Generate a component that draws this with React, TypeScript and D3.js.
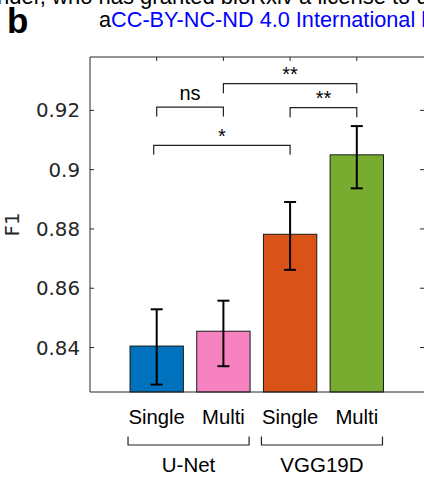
import React from "react";
import * as d3 from "d3";

const categories = ["Single", "Multi", "Single", "Multi"];
const groups = ["U-Net", "VGG19D"];
const groupMembers = [[0, 1], [2, 3]];
const means = [0.8405, 0.8455, 0.8782, 0.905];
const errLow = [0.8275, 0.8337, 0.8662, 0.8937];
const errHigh = [0.8529, 0.8558, 0.8891, 0.9147];
const barColors = ["#0072BD", "#F782C2", "#D95319", "#77AC30"];
const yTicks = [0.84, 0.86, 0.88, 0.9, 0.92];
const yDomain = [0.825, 0.938];
const compFrom = [0, 0, 1, 2];
const compTo = [1, 2, 3, 3];
const compLevel = [0.9211, 0.9082, 0.929, 0.9209];
const compLabel = ["ns", "*", "**", "**"];

const W = 424;
const H = 477;
const left = 90;
const right = 423.5;
const top = 57;
const bottom = 392;

export default function App() {
  const x = d3.scaleLinear().domain([0, 5]).range([left, right]);
  const y = d3.scaleLinear().domain(yDomain).range([bottom, top]);
  const step = x(1) - x(0);
  const bw = step * 0.8;
  const axisColor = "#262626";
  const sans = "Liberation Sans, Arial, Helvetica, sans-serif";
  const dv = "DejaVu Sans, sans-serif";
  const leg = 9.5;

  return (
    <svg
      width={W}
      height={H}
      style={{ position: "absolute", left: 0, top: 0, background: "#fff" }}
    >
      <rect x={0} y={0} width={W} height={H} fill="#fff" />
      {/* header fragments */}
      <text x={-3} y={4} fontFamily={sans} fontSize={22} fill="#000">
        nder, who has granted bioRxiv a license to display
      </text>
      <text x={99} y={27} fontFamily={sans} fontSize={21.7} fill="#000">
        a<tspan fill="#0000FF">CC-BY-NC-ND 4.0 International license</tspan>
      </text>
      <text x={7} y={33} fontFamily={sans} fontSize={35} fontWeight="bold" fill="#000">
        b
      </text>

      {/* bars */}
      {means.map((m, i) => (
        <rect
          key={"bar" + i}
          x={x(i + 1) - bw / 2}
          y={y(m)}
          width={bw}
          height={bottom - y(m)}
          fill={barColors[i]}
          stroke="#1a1a1a"
          strokeWidth={1}
        />
      ))}

      {/* error bars */}
      {means.map((m, i) => {
        const cx = x(i + 1);
        return (
          <g key={"err" + i} stroke="#000" strokeWidth={2}>
            <line x1={cx} x2={cx} y1={y(errHigh[i])} y2={y(errLow[i])} />
            <line x1={cx - 6} x2={cx + 6} y1={y(errHigh[i])} y2={y(errHigh[i])} />
            <line x1={cx - 6} x2={cx + 6} y1={y(errLow[i])} y2={y(errLow[i])} />
          </g>
        );
      })}

      {/* axes box */}
      <g stroke={axisColor} strokeWidth={1} fill="none">
        <line x1={left} x2={W} y1={top} y2={top} />
        <line x1={left} x2={left} y1={top} y2={bottom} />
        <line x1={left} x2={W} y1={bottom} y2={bottom} />
        {yTicks.map((t) => (
          <g key={"t" + t}>
            <line x1={left} x2={left + 4} y1={y(t)} y2={y(t)} />
            <line x1={W - 4} x2={W} y1={y(t)} y2={y(t)} />
          </g>
        ))}
        {categories.map((c, i) => (
          <line key={"tt" + i} x1={x(i + 1)} x2={x(i + 1)} y1={top} y2={top + 4} />
        ))}
      </g>

      {/* y tick labels */}
      {yTicks.map((t) => (
        <text
          key={"yl" + t}
          x={left - 10}
          y={y(t)}
          dy="0.36em"
          textAnchor="end"
          fontFamily={dv}
          fontSize={19.8}
          fill={axisColor}
        >
          {d3.format("~g")(t)}
        </text>
      ))}
      <text
        transform={`translate(19,${(top + bottom) / 2}) rotate(-90)`}
        textAnchor="middle"
        fontFamily={dv}
        fontSize={19.8}
        fill={axisColor}
      >
        F1
      </text>

      {/* category labels */}
      {categories.map((c, i) => (
        <text
          key={"cl" + i}
          x={x(i + 1)}
          y={424}
          textAnchor="middle"
          fontFamily={sans}
          fontSize={20.3}
          fill="#000"
        >
          {c}
        </text>
      ))}

      {/* group brackets */}
      {groups.map((g, gi) => {
        const a = x(groupMembers[gi][0] + 1) - bw / 2 - 2;
        const b = x(groupMembers[gi][1] + 1) + bw / 2 - 1;
        return (
          <g key={"g" + gi}>
            <path
              d={`M${a},436.5 V445 H${b} V436.5`}
              fill="none"
              stroke="#222"
              strokeWidth={1.2}
            />
            <text
              x={(a + b) / 2}
              y={472}
              textAnchor="middle"
              fontFamily={sans}
              fontSize={20.5}
              fill="#000"
            >
              {g}
            </text>
          </g>
        );
      })}

      {/* significance brackets */}
      {compFrom.map((f, i) => {
        const a = x(f + 1) - (i === 1 ? 3 : 0);
        const b = x(compTo[i] + 1);
        const yy = y(compLevel[i]);
        const isNs = compLabel[i] === "ns";
        return (
          <g key={"c" + i}>
            <path
              d={`M${a},${yy + leg} V${yy} H${b} V${yy + leg}`}
              fill="none"
              stroke="#222"
              strokeWidth={1.2}
            />
            <text
              x={(a + b) / 2}
              y={isNs ? yy - 7.5 : yy - 2.5}
              textAnchor="middle"
              fontFamily={sans}
              fontSize={20}
              fill="#000"
            >
              {compLabel[i]}
            </text>
          </g>
        );
      })}
    </svg>
  );
}
